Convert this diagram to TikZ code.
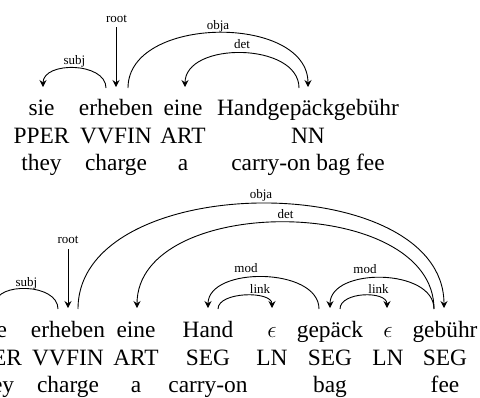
\RequirePackage{fix-cm}
\documentclass[tikz,border=0pt]{standalone}
\usepackage{fontspec}
\setmainfont{Liberation Serif}
\usetikzlibrary{arrows.meta,calc}
\tikzset{
  word/.style={font=\fontsize{23.4}{28}\selectfont, anchor=base, inner sep=0pt},
  lab/.style={font=\fontsize{13}{15}\selectfont, anchor=base, inner sep=0pt},
  dep/.style={line width=0.9pt, -{Stealth[length=7pt,width=7pt,inset=2.5pt]}},
}
\begin{document}
\begin{tikzpicture}[x=1pt,y=-1pt]
\useasboundingbox (0,0) rectangle (480,397);
\clip (0,0) rectangle (480,397);
% ---------- top sentence ----------
\node[word] (sieT) at (41.5,115) {sie};
\node[word] (erhT) at (116,115) {erheben};
\node[word] (eineT) at (183,115) {eine};
\node[word] (hggT) at (308,115) {Handgepäckgebühr};
\node[word] (pperT) at (41.5,143) {PPER};
\node[word] (vvfinT) at (116,143) {VVFIN};
\node[word] (artT) at (183,143) {ART};
\node[word] (nnT) at (308,143) {NN};
\node[word] (theyT) at (41.5,170.5) {they};
\node[word] (chargeT) at (116,170.5) {charge};
\node[word] (aT) at (183,170.5) {a};
\node[word] (cobT) at (308,170.5) {carry-on bag fee};
% root
\coordinate (rootT) at ($(erhT.base)+(0,-88)$);
\node[lab] (rootTl) at (116.5,22) {root};
\draw[dep] (rootT) -- ($(erhT.base)+(0,-28)$);
% arcs
\draw[dep] ($(erhT.base)+(-10,-27)$) .. controls +(0,-26) and +(0,-26) .. ($(sieT.base)+(1.5,-28)$);
\node[lab] (subjTl) at (74.5,64) {subj};
\draw[dep] ($(erhT.base)+(12,-27)$) .. controls +(0,-73) and +(0,-73) .. ($(hggT.base)+(0,-28)$);
\node[lab] (objaTl) at (218,29.5) {obja};
\draw[dep] ($(hggT.base)+(-9,-27)$) .. controls +(0,-46) and +(0,-46) .. ($(eineT.base)+(2,-28)$);
\node[lab] (detTl) at (242,48) {det};
% ---------- bottom sentence ----------
\node[word] (sieB) at (-6,337) {sie};
\node[word] (erhB) at (68,337) {erheben};
\node[word] (eineB) at (136,337) {eine};
\node[word] (handB) at (208,337) {Hand};
\node[word] (epsA) at (272,337) {$\epsilon$};
\node[word] (gepB) at (330,337) {gepäck};
\node[word] (epsB) at (388,337) {$\epsilon$};
\node[word] (gebB) at (445,337) {gebühr};
\node[word] (pperB) at (-6,365) {PPER};
\node[word] (vvfinB) at (68,365) {VVFIN};
\node[word] (artB) at (136,365) {ART};
\node[word] (segA) at (208,365) {SEG};
\node[word] (lnA) at (272,365) {LN};
\node[word] (segB) at (330,365) {SEG};
\node[word] (lnB) at (388,365) {LN};
\node[word] (segC) at (445,365) {SEG};
\node[word] (theyB) at (-6,392.5) {they};
\node[word] (chargeB) at (68,392.5) {charge};
\node[word] (aB) at (136,392.5) {a};
\node[word] (carryB) at (208,392.5) {carry-on};
\node[word] (bagB) at (330,392.5) {bag};
\node[word] (feeB) at (445,392.5) {fee};
% root
\coordinate (rootB) at ($(erhB.base)+(0,-88)$);
\node[lab] (rootBl) at (68,243) {root};
\draw[dep] (rootB) -- ($(erhB.base)+(0,-29)$);
% arcs
\draw[dep] ($(erhB.base)+(-10,-28)$) .. controls +(0,-26) and +(0,-26) .. ($(sieB.base)+(1.5,-29)$);
\node[lab] (subjBl) at (26.5,286) {subj};
\draw[dep] ($(erhB.base)+(10,-28)$) .. controls +(0,-140) and +(0,-140) .. ($(gebB.base)+(-1,-29)$);
\node[lab] (objaBl) at (261,198) {obja};
\draw[dep] ($(gebB.base)+(-11,-28)$) .. controls +(0,-115) and +(0,-115) .. ($(eineB.base)+(1,-29)$);
\node[lab] (detBl) at (285.5,218) {det};
\draw[dep] ($(gepB.base)+(-11,-28)$) .. controls +(0,-42) and +(0,-42) .. ($(handB.base)+(0,-29)$);
\node[lab] (modAl) at (246,272) {mod};
\draw[dep] ($(handB.base)+(10,-28)$) .. controls +(0,-17.5) and +(0,-17.5) .. ($(epsA.base)+(0,-29)$);
\node[lab] (linkAl) at (260,293) {link};
\draw[dep] ($(gebB.base)+(-11,-28)$) .. controls +(0,-41) and +(0,-41) .. ($(gepB.base)+(0,-29)$);
\node[lab] (modBl) at (365,273) {mod};
\draw[dep] ($(gepB.base)+(10,-28)$) .. controls +(0,-17.5) and +(0,-17.5) .. ($(epsB.base)+(-1,-29)$);
\node[lab] (linkBl) at (378.5,293) {link};
\end{tikzpicture}
\end{document}
